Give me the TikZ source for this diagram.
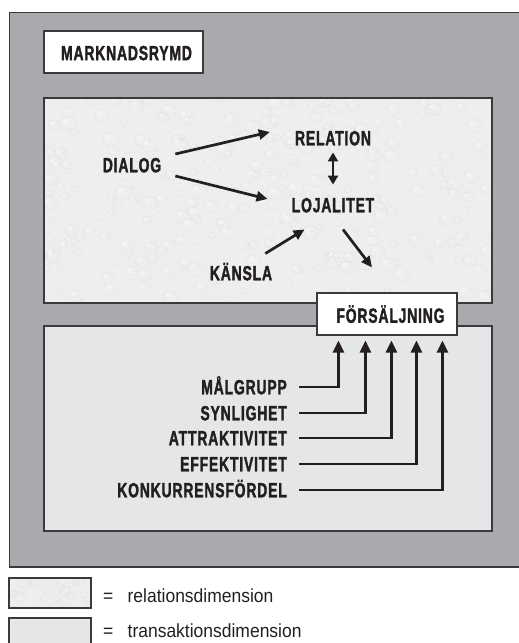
\documentclass[tikz,border=0pt]{standalone}
\usepackage{fontspec}
\setmainfont{Liberation Sans}
\newfontfamily\condfont{Liberation Sans}[FakeStretch=0.68,FakeBold=1.6,LetterSpace=4]
\newfontfamily\condreg{Liberation Sans}[FakeStretch=0.92]
\usetikzlibrary{arrows.meta}
\definecolor{ink}{HTML}{231F20}
\definecolor{outergrey}{HTML}{A9AAAD}
\definecolor{relfill}{HTML}{EEEEEE}
\definecolor{transfill}{HTML}{E5E6E7}
\definecolor{edge}{HTML}{3A3A3C}
\definecolor{drop}{HTML}{E0E0E0}
\begin{document}
\begin{tikzpicture}[x=1pt,y=-1pt,
  lab/.style={font=\condfont\bfseries\fontsize{20.5}{21}\selectfont, text=ink, inner sep=0pt, text height=14.5pt, text depth=0pt},
  legtext/.style={font=\condreg\fontsize{19}{20}\selectfont, text=ink, inner sep=0pt, anchor=base west},
  whitebox/.style={draw=edge, line width=1.1pt, fill=white, inner sep=0pt},
  arr/.style={draw=ink, line width=2.7pt, -{Triangle[length=11pt,width=10pt]}},
  darr/.style={draw=ink, line width=2.7pt, {Triangle[length=9pt,width=10pt]}-{Triangle[length=9pt,width=10pt]}},
  conn/.style={draw=ink, line width=2.6pt, -{Triangle[length=12pt,width=11pt]}}
]
\useasboundingbox (0,0) rectangle (519,643);
\clip (0,0) rectangle (519,643);

% outer market space
\draw[draw=edge, line width=1.1pt, fill=outergrey] (9.5,12.5) rectangle (540,567);

% relation dimension panel with faint droplet texture
\fill[relfill] (44,98) rectangle (492,303);
\begin{scope}
  \clip (44,98) rectangle (492,303);
  \pgfmathsetseed{11}
  \foreach \i in {1,...,320}{
    \pgfmathsetmacro{\px}{44+448*rnd}
    \pgfmathsetmacro{\py}{98+205*rnd}
    \pgfmathsetmacro{\rr}{2.5+6*rnd}
    \draw[drop, line width=0.6pt, opacity=0.55] (\px,\py) ellipse ({\rr} and {0.8*\rr});
    \fill[white, opacity=0.35] (\px-0.3*\rr,\py-0.3*\rr) circle (0.35*\rr);
  }
\end{scope}
\draw[draw=edge, line width=1.1pt] (44,98) rectangle (492,303);

% transaction dimension panel
\draw[draw=edge, line width=1.1pt, fill=transfill] (44,326) rectangle (492,531);

% title box
\node[whitebox, minimum width=159pt, minimum height=42pt] (mk) at (123.5,52) {};
\node[lab] (mkt) at (126.5,52.9) {MARKNADSRYMD};

% relation nodes
\node[lab] (rel) at (333,138) {RELATION};
\node[lab] (dia) at (132,165) {DIALOG};
\node[lab] (loj) at (333,205) {LOJALITET};
\node[lab] (kan) at (241,273) {KÄNSLA};

% sales box
\node[whitebox, minimum width=140pt, minimum height=42pt] (fs) at (387,314) {};
\node[lab] (fst) at (390.5,315.5) {FÖRSÄLJNING};

% relation arrows
\draw[arr] ([shift={(14,-11)}]dia.east) -- ([shift={(-25,-6)}]rel.west);
\draw[arr] ([shift={(14,11)}]dia.east) -- ([shift={(-24,-6)}]loj.west);
\draw[darr] ([shift={(0,7)}]rel.south) -- ([shift={(0,-13)}]loj.north);
\draw[arr] ([shift={(-7,-12)}]kan.north east) -- ([shift={(13,17)}]loj.south west);
\draw[arr] ([shift={(10,17)}]loj.south) -- ([shift={(-15,-25)}]fs.north);

% transaction labels
\node[lab, anchor=east] (t1) at (287,387) {MÅLGRUPP};
\node[lab, anchor=east] (t2) at (287,413) {SYNLIGHET};
\node[lab, anchor=east] (t3) at (287,438) {ATTRAKTIVITET};
\node[lab, anchor=east] (t4) at (287,464) {EFFEKTIVITET};
\node[lab, anchor=east] (t5) at (287,490) {KONKURRENSFÖRDEL};

\draw[conn] ([xshift=12pt]t1.east) -| ([shift={(22,5)}]fs.south west);
\draw[conn] ([xshift=12pt]t2.east) -| ([shift={(49,5)}]fs.south west);
\draw[conn] ([xshift=12pt]t3.east) -| ([shift={(75,5)}]fs.south west);
\draw[conn] ([xshift=12pt]t4.east) -| ([shift={(100,5)}]fs.south west);
\draw[conn] ([xshift=12pt]t5.east) -| ([shift={(126,5)}]fs.south west);

% legend
\fill[relfill] (9,578) rectangle (91,608);
\begin{scope}
  \clip (9,578) rectangle (91,608);
  \pgfmathsetseed{5}
  \foreach \i in {1,...,40}{
    \pgfmathsetmacro{\px}{9+82*rnd}
    \pgfmathsetmacro{\py}{578+30*rnd}
    \pgfmathsetmacro{\rr}{2+4*rnd}
    \draw[drop, line width=0.5pt, opacity=0.55] (\px,\py) ellipse ({\rr} and {0.8*\rr});
  }
\end{scope}
\draw[draw=edge, line width=1.1pt] (9,578) rectangle (91,608);
\node[legtext] (l1) at (103,602.3) {=\hspace{0.75em}relationsdimension};
\draw[draw=edge, line width=1.1pt, fill=transfill] (9,618) rectangle (91,660);
\node[legtext] (l2) at (103,637) {=\hspace{0.75em}transaktionsdimension};
\end{tikzpicture}
\end{document}
